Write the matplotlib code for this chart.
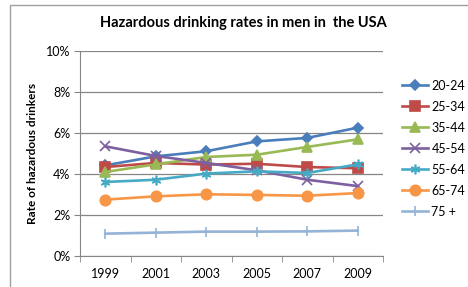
import matplotlib.pyplot as plt
from matplotlib.ticker import FuncFormatter

years = ['1999', '2001', '2003', '2005', '2007', '2009']
age_groups = ['20-24', '25-34', '35-44', '45-54', '55-64', '65-74', '75 +']

rate_20_24 = [4.42, 4.86, 5.11, 5.59, 5.76, 6.26]
rate_25_34 = [4.34, 4.54, 4.46, 4.50, 4.34, 4.28]
rate_35_44 = [4.10, 4.47, 4.83, 4.94, 5.32, 5.69]
rate_45_54 = [5.35, 4.88, 4.54, 4.18, 3.72, 3.41]
rate_55_64 = [3.61, 3.72, 4.02, 4.13, 4.05, 4.47]
rate_65_74 = [2.75, 2.91, 3.01, 2.98, 2.94, 3.07]
rate_75_up = [1.09, 1.14, 1.19, 1.19, 1.20, 1.24]

series = [rate_20_24, rate_25_34, rate_35_44, rate_45_54, rate_55_64, rate_65_74, rate_75_up]
colors = ['#4A7EBB', '#BE4B48', '#98B954', '#7D60A0', '#46AAC5', '#F79646', '#95B3D7']
markers = ['D', 's', '^', 'x', (6, 2, 0), 'o', '|']
msizes = [5, 6.5, 6.5, 7, 7, 7.5, 7]

plt.rcParams['font.family'] = ['Lato', 'DejaVu Sans']

fig = plt.figure(figsize=(4.68, 2.87), dpi=100)
# outer chart border
fig.patches.append(plt.Rectangle((10 / 468, -0.1), 1.2, 1.1 - 5 / 287, transform=fig.transFigure,
                                 fill=False, edgecolor='#A0A0A0', linewidth=1.0))
ax = fig.add_axes([80 / 468, 1 - 256 / 287, 303 / 468, 205 / 287])

x = range(len(years))
for vals, name, c, m, ms in zip(series, age_groups, colors, markers, msizes):
    ax.plot(x, vals, color=c, linewidth=1.9, marker=m, markersize=ms,
            markeredgecolor=c, markerfacecolor=c, markeredgewidth=1.2, label=name)

ax.set_xlim(-0.5, len(years) - 0.5)
ax.set_ylim(0, 10)
ax.set_yticks([0, 2, 4, 6, 8, 10])
ax.yaxis.set_major_formatter(FuncFormatter(lambda v, p: f'{v:.0f}%'))
ax.set_xticks(list(x))
ax.set_xticklabels(years)
ax.set_xticks([i - 0.5 for i in range(len(years) + 1)], minor=True)
ax.tick_params(axis='x', which='major', length=0, pad=9, labelsize=9)
ax.tick_params(axis='x', which='minor', length=4, color='#868686')
ax.tick_params(axis='y', length=4, color='#868686', labelsize=9, pad=3)
ax.grid(axis='y', color='#868686', linewidth=0.9)
ax.set_axisbelow(True)
for side in ['top', 'right']:
    ax.spines[side].set_visible(False)
for side in ['left', 'bottom']:
    ax.spines[side].set_color('#868686')

ax.set_ylabel('Rate of hazardous drinkers', fontsize=8.5, fontweight='bold', labelpad=6)
fig.text(243 / 468, 1 - 23 / 287, 'Hazardous drinking rates in men in  the USA',
         ha='center', va='center', fontsize=10.5, fontweight='bold')

leg = ax.legend(loc='upper left', bbox_to_anchor=(1.063, 0.86), frameon=False,
                borderaxespad=0, borderpad=0,
                fontsize=9, handlelength=2.1, handletextpad=0.25, labelspacing=0.72)

fig.savefig('out.png', dpi=100)
